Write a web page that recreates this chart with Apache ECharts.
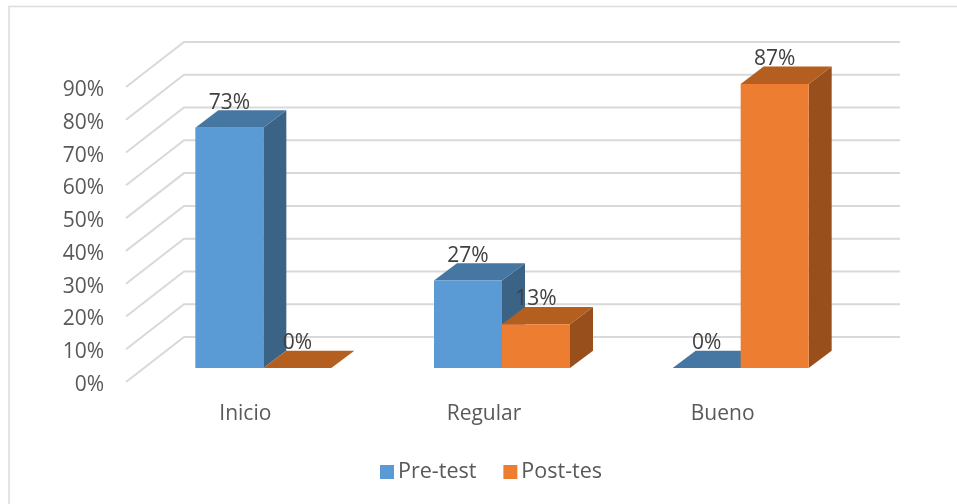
<!DOCTYPE html>
<html>
<head>
<meta charset="utf-8">
<style>
  html, body { margin: 0; padding: 0; background: #fff; }
  #chart { width: 957px; height: 504px; }
</style>
<script src="https://cdn.jsdelivr.net/npm/echarts@6/dist/echarts.min.js"></script>
</head>
<body>
<div id="chart"></div>
<script>
const categories = ["Inicio", "Regular", "Bueno"];
const preTest = [73.33, 26.67, 0];
const postTest = [0, 13.33, 86.67];
const yTicks = [0, 10, 20, 30, 40, 50, 60, 70, 80, 90];

const FONT = "Open Sans";
// bar plane and back wall, measured from the front edge of the floor
const BAR_PLANE = [18, -14];
const BACK_WALL = [58, -45];
const BAR_DEPTH = [23, -17.3];
const BAR_WIDTH = 68;

function wallLine(params, api) {
  const rect = params.coordSys;
  const y = api.coord([0, api.value(1)])[1];
  const bx = rect.x + BACK_WALL[0];
  const by = y + BACK_WALL[1];
  return {
    type: "polyline",
    shape: { points: [[rect.x, y], [bx, by], [bx + rect.width, by]] },
    style: { fill: null, stroke: "#d9d9d9", lineWidth: 2 },
    silent: true
  };
}

function poly(points, fill) {
  return { type: "polygon", shape: { points: points }, style: { fill: fill } };
}

// side: -1 puts the bar left of the band centre, 0 right of it
function bar3d(side, colors) {
  return function (params, api) {
    const value = api.value(1);
    const top = api.coord([api.value(0), value]);
    const base = api.coord([api.value(0), 0]);
    const x0 = top[0] + BAR_PLANE[0] + side * BAR_WIDTH;
    const x1 = x0 + BAR_WIDTH;
    const yt = top[1] + BAR_PLANE[1];
    const yb = base[1] + BAR_PLANE[1];
    const dx = BAR_DEPTH[0];
    const dy = BAR_DEPTH[1];
    return {
      type: "group",
      children: [
        poly([[x1, yt], [x1 + dx, yt + dy], [x1 + dx, yb + dy], [x1, yb]], colors.side),
        poly([[x0, yt], [x0 + dx, yt + dy], [x1 + dx, yt + dy], [x1, yt]], colors.top),
        poly([[x0, yt], [x1, yt], [x1, yb], [x0, yb]], colors.front),
        {
          type: "text",
          style: {
            x: (x0 + x1) / 2,
            y: yt - 25,
            text: Math.round(value) + "%",
            fill: "#404040",
            font: "21px '" + FONT + "'",
            align: "center",
            verticalAlign: "middle"
          }
        }
      ]
    };
  };
}

function toPairs(values) {
  return values.map(function (v, i) { return [i, v]; });
}

const chart = echarts.init(document.getElementById("chart"));
chart.setOption({
  animation: false,
  backgroundColor: "#fff",
  textStyle: { fontFamily: FONT },
  grid: { left: 126, top: 87, width: 716, height: 295 },
  xAxis: {
    type: "category",
    data: categories,
    axisLine: { show: false },
    axisTick: { show: false },
    axisLabel: { color: "#595959", fontSize: 21, margin: 21.5 }
  },
  yAxis: {
    type: "value",
    min: 0,
    max: 90,
    interval: 10,
    axisLine: { show: false },
    axisTick: { show: false },
    splitLine: { show: false },
    axisLabel: {
      color: "#595959",
      fontSize: 21,
      margin: 22,
      verticalAlign: "top",
      lineHeight: 6,
      formatter: "{value}%"
    }
  },
  legend: {
    data: ["Pre-test", "Post-tes"],
    left: 380,
    top: 461,
    padding: 0,
    icon: "rect",
    itemWidth: 14,
    itemHeight: 14,
    itemGap: 27,
    textStyle: { color: "#595959", fontSize: 21.5, padding: [0, 0, 0, -1] }
  },
  graphic: [{
    type: "polyline",
    shape: { points: [[9, 504], [9, 6.5], [957, 6.5]] },
    style: { fill: null, stroke: "#dcdcdc", lineWidth: 1.5 },
    silent: true
  }],
  series: [
    {
      type: "custom",
      name: "wall",
      data: yTicks.map(function (t) { return [0, t]; }),
      encode: { x: 0, y: 1 },
      renderItem: wallLine,
      z: 1
    },
    {
      type: "custom",
      name: "Pre-test",
      data: toPairs(preTest),
      encode: { x: 0, y: 1 },
      itemStyle: { color: "#5b9bd5" },
      renderItem: bar3d(-1, { front: "#5b9bd5", top: "#4676a2", side: "#3a6386" }),
      z: 2
    },
    {
      type: "custom",
      name: "Post-tes",
      data: toPairs(postTest),
      encode: { x: 0, y: 1 },
      itemStyle: { color: "#ed7d31" },
      renderItem: bar3d(0, { front: "#ed7d31", top: "#b45f20", side: "#984f1b" }),
      z: 3
    }
  ]
});
</script>
</body>
</html>
